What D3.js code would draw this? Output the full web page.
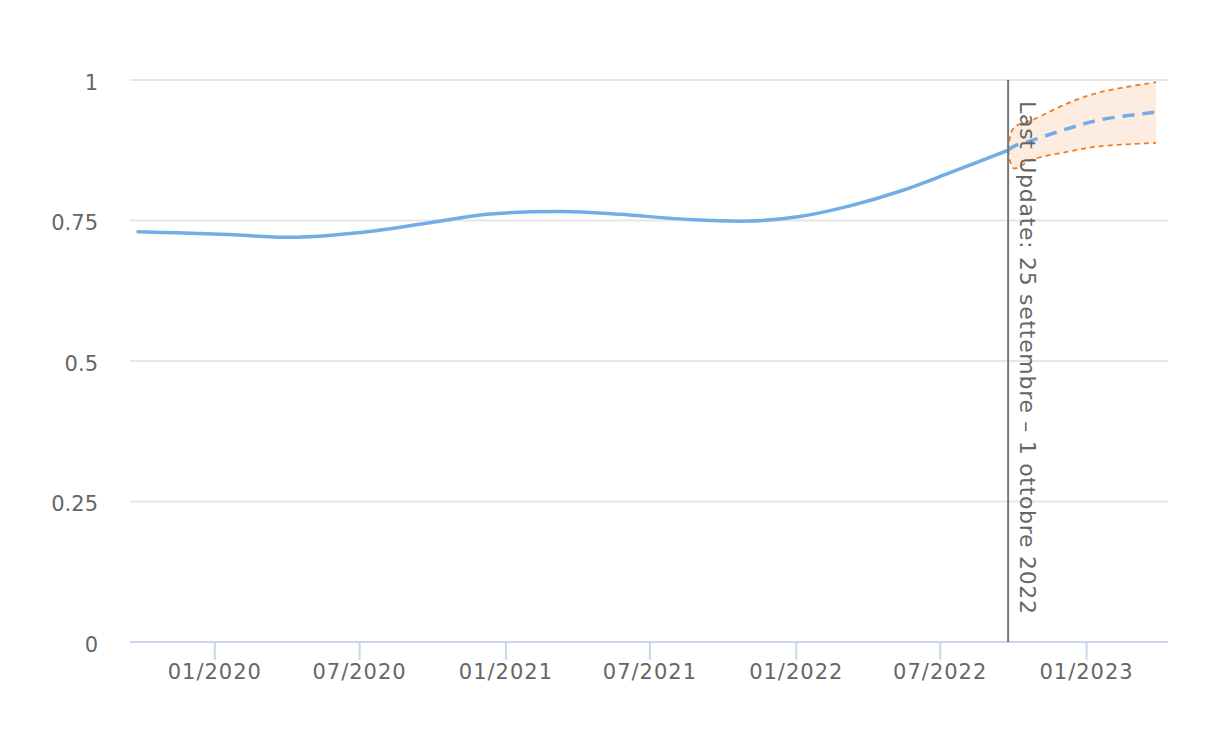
<!DOCTYPE html>
<html>
<head>
<meta charset="utf-8">
<script src="https://cdn.jsdelivr.net/npm/d3@7"></script>
<style>
  body { margin: 0; background: #fff; }
  svg { font-family: "DejaVu Sans", sans-serif; }
</style>
</head>
<body>
<svg width="1222" height="742"></svg>
<script>
var width = 1222;
var height = 742;
var margin = { top: 80, bottom: 100, left: 130, right: 54 };

var actualDates = ['2019-09-27', '2019-11-15', '2020-01-20', '2020-04-05', '2020-07-06', '2020-09-28',
  '2020-12-09', '2021-03-14', '2021-05-25', '2021-08-17', '2021-11-04', '2022-01-06',
  '2022-03-10', '2022-05-12', '2022-07-14', '2022-09-25'];
var actualValues = [0.730, 0.728, 0.725, 0.720, 0.729, 0.746,
  0.761, 0.766, 0.761, 0.752, 0.749, 0.757,
  0.776, 0.802, 0.835, 0.875];

// forecast with range
var forecastDates = ['2022-09-25', '2022-10-02', '2022-10-26', '2022-12-08', '2023-01-18', '2023-03-30'];
var forecastMean = [0.875, 0.882, 0.893, 0.913, 0.929, 0.943];
var forecastLow = [0.875, 0.843, 0.859, 0.872, 0.882, 0.888];
var forecastHigh = [0.875, 0.915, 0.929, 0.958, 0.978, 0.996];

var yTicks = [0, 0.25, 0.5, 0.75, 1];
var xTickDates = ['2020-01-01', '2020-07-01', '2021-01-01', '2021-07-01', '2022-01-01', '2022-07-01', '2023-01-01'];
var lastUpdate = '2022-09-25';
var lastUpdateLabel = 'Last Update: 25 settembre \u2013 1 ottobre 2022';

var parse = d3.timeParse('%Y-%m-%d');

var actual = actualDates.map((d, i) => ({ date: parse(d), value: actualValues[i] }));
var forecast = forecastDates.map((d, i) => ({
  date: parse(d), mean: forecastMean[i], low: forecastLow[i], high: forecastHigh[i]
}));

// Setup scales ------------------------------------------------------------
var xScale = d3.scaleTime()
  .domain([parse('2019-09-17'), parse('2023-04-14')])
  .range([margin.left, width - margin.right]);
var yScale = d3.scaleLinear()
  .domain([0, 1])
  .range([height - margin.bottom, margin.top]);

var smooth = d3.curveCatmullRom.alpha(0.5);
var svg = d3.select('svg');

// grid lines
svg.append('g').selectAll('line').data(yTicks).enter().append('line')
  .attr('x1', margin.left).attr('x2', width - margin.right)
  .attr('y1', d => yScale(d)).attr('y2', d => yScale(d))
  .attr('stroke', '#e6e6e6').attr('stroke-width', 2);

// y axis labels
var yAxis = d3.axisLeft(yScale).tickValues(yTicks).tickSize(0).tickPadding(32)
  .tickFormat(d => d3.format('')(d));
svg.append('g').attr('transform', 'translate(' + margin.left + ',0)').call(yAxis)
  .call(g => g.select('.domain').remove())
  .call(g => g.selectAll('text').attr('fill', '#666').attr('font-size', 21)
    .attr('font-family', '"DejaVu Sans", sans-serif').attr('dy', '0.45em'));

// x axis
var xAxis = d3.axisBottom(xScale).tickValues(xTickDates.map(parse)).tickSize(18).tickPadding(4)
  .tickFormat(d3.timeFormat('%m/%Y'));
svg.append('g').attr('transform', 'translate(0,' + (height - margin.bottom) + ')').call(xAxis)
  .call(g => g.select('.domain').attr('stroke', '#ccd6eb').attr('stroke-width', 2)
    .attr('d', 'M' + margin.left + ',0H' + (width - margin.right)))
  .call(g => g.selectAll('.tick line').attr('stroke', '#ccd6eb').attr('stroke-width', 2))
  .call(g => g.selectAll('text').attr('fill', '#666').attr('font-size', 21)
    .attr('font-family', '"DejaVu Sans", sans-serif').attr('letter-spacing', '1px'));

// forecast band
var band = d3.area()
  .x(d => xScale(d.date))
  .y0(d => yScale(d.low))
  .y1(d => yScale(d.high))
  .curve(smooth);
svg.append('path').datum(forecast).attr('d', band)
  .attr('fill', '#fdede1');

['low', 'high'].forEach(k => {
  svg.append('path').datum(forecast)
    .attr('d', d3.line().x(d => xScale(d.date)).y(d => yScale(d[k])).curve(smooth))
    .attr('fill', 'none').attr('stroke', '#f77b1c').attr('stroke-width', 1.8)
    .attr('stroke-dasharray', '5,4');
});

// actual line
var line = d3.line().x(d => xScale(d.date)).y(d => yScale(d.value)).curve(smooth);
svg.append('path').datum(actual).attr('d', line)
  .attr('fill', 'none').attr('stroke', '#73ade6').attr('stroke-width', 3.5)
  .attr('stroke-linecap', 'round');

// forecast mean
svg.append('path').datum(forecast)
  .attr('d', d3.line().x(d => xScale(d.date)).y(d => yScale(d.mean)).curve(smooth))
  .attr('fill', 'none').attr('stroke', '#73ade6').attr('stroke-width', 3.5)
  .attr('stroke-dasharray', '12,8');

// last update plot line
var lx = xScale(parse(lastUpdate));
svg.append('line')
  .attr('x1', lx).attr('x2', lx)
  .attr('y1', yScale(1)).attr('y2', yScale(0))
  .attr('stroke', '#777').attr('stroke-width', 2);
svg.append('text')
  .attr('transform', 'translate(' + (lx + 12) + ',' + (yScale(1) + 21) + ') rotate(90)')
  .attr('fill', '#666').attr('font-size', 22).attr('letter-spacing', '0.7px')
  .text(lastUpdateLabel);
</script>
</body>
</html>
